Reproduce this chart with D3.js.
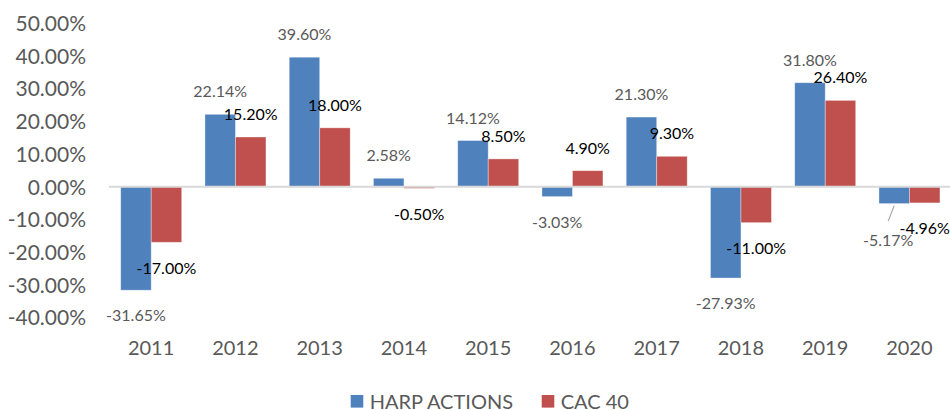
<!DOCTYPE html>
<html><head><meta charset="utf-8">
<script src="https://cdn.jsdelivr.net/npm/d3@7"></script>
<style>body{margin:0;background:#fff}svg{display:block}text{font-family:Lato,"Open Sans",sans-serif}</style>
</head><body>
<svg id="chart" width="950" height="410"></svg>
<script>
const categories = ["2011","2012","2013","2014","2015","2016","2017","2018","2019","2020"];
const seriesNames = ["HARP ACTIONS","CAC 40"];
const harpValues = [-31.65, 22.14, 39.60, 2.58, 14.12, -3.03, 21.30, -27.93, 31.80, -5.17];
const cacValues = [-17.00, 15.20, 18.00, -0.50, 8.50, 4.90, 9.30, -11.00, 26.40, -4.96];
const yTicks = [-40, -30, -20, -10, 0, 10, 20, 30, 40, 50];

const colors = ["#4F81BD", "#C0504D"];
const labelColors = ["#595959", "#000000"];
const svg = d3.select("#chart");

const y = d3.scaleLinear().domain([-40, 50]).range([317.5, 23.2]);
const x0 = d3.scaleBand().domain(categories).range([109, 951.5]).padding(0);
const step = x0.bandwidth();
const x1 = d3.scaleBand().domain([0, 1]).range([step * 0.139, step * 0.863]).padding(0);

const fmt = v => v.toFixed(2) + "%";

// y axis labels
const yAxis = d3.axisLeft(y).tickValues(yTicks).tickFormat(d => d.toFixed(2) + "%").tickSize(0).tickPadding(0);
const gy = svg.append("g").attr("transform", "translate(86,0)").call(yAxis);
gy.select(".domain").remove();
gy.selectAll("text").attr("fill", "#595959").attr("font-size", 21).attr("font-family", "Lato, sans-serif").attr("dy", "0.35em");

const series = [harpValues, cacValues];
const rows = [];
series.forEach((vals, s) => vals.forEach((v, i) => rows.push({s, cat: categories[i], v})));

// bars
svg.append("g").selectAll("rect").data(rows).join("rect")
  .attr("x", d => x0(d.cat) + x1(d.s))
  .attr("width", x1.bandwidth())
  .attr("y", d => y(Math.max(0, d.v)))
  .attr("height", d => Math.abs(y(d.v) - y(0)))
  .attr("fill", d => colors[d.s])
  .attr("stroke", "#ffffff").attr("stroke-opacity", 0.45).attr("stroke-width", 0.8);

// zero line
svg.append("line").attr("x1", 109).attr("x2", 950).attr("y1", y(0)).attr("y2", y(0))
  .attr("stroke", "#D9D9D9").attr("stroke-width", 2);

// x axis labels
const xAxis = d3.axisBottom(x0).tickSize(0).tickPadding(0);
const gx = svg.append("g").attr("transform", "translate(0,348)").call(xAxis);
gx.select(".domain").remove();
gx.selectAll("text").attr("fill", "#595959").attr("font-size", 20).attr("font-family", "Lato, sans-serif").attr("dy", "0.35em");

// data labels
const nudge = {"0-2020": {dx: -6, dy: 11}};
const lbl = svg.append("g").selectAll("text").data(rows).join("text")
  .attr("x", d => x0(d.cat) + x1(d.s) + x1.bandwidth() / 2 + ((nudge[d.s + "-" + d.cat] || {}).dx || 0))
  .attr("y", d => (d.v >= 0 ? y(d.v) - 22.5 : y(d.v) + 25.7) + ((nudge[d.s + "-" + d.cat] || {}).dy || 0))
  .attr("dy", "0.35em")
  .attr("text-anchor", "middle")
  .attr("font-size", 16)
  .attr("fill", d => labelColors[d.s])
  .text(d => fmt(d.v));

// leader line for moved label
rows.filter(d => nudge[d.s + "-" + d.cat]).forEach(d => {
  const cx = x0(d.cat) + x1(d.s) + x1.bandwidth() / 2;
  svg.append("line").attr("x1", cx).attr("y1", y(d.v) + 2).attr("x2", cx - 6).attr("y2", y(d.v) + 17.5)
    .attr("stroke", "#A6A6A6").attr("stroke-width", 1.2);
});

// legend
const legend = svg.append("g");
const legX = [350.7, 541.7];
seriesNames.forEach((n, i) => {
  legend.append("rect").attr("x", legX[i]).attr("y", 395).attr("width", 12.6).attr("height", 12.6).attr("fill", colors[i]);
  legend.append("text").attr("x", legX[i] + 19).attr("y", 401.5).attr("dy", "0.35em")
    .attr("font-size", 20).attr("fill", "#595959").text(n);
});
</script>
</body></html>
